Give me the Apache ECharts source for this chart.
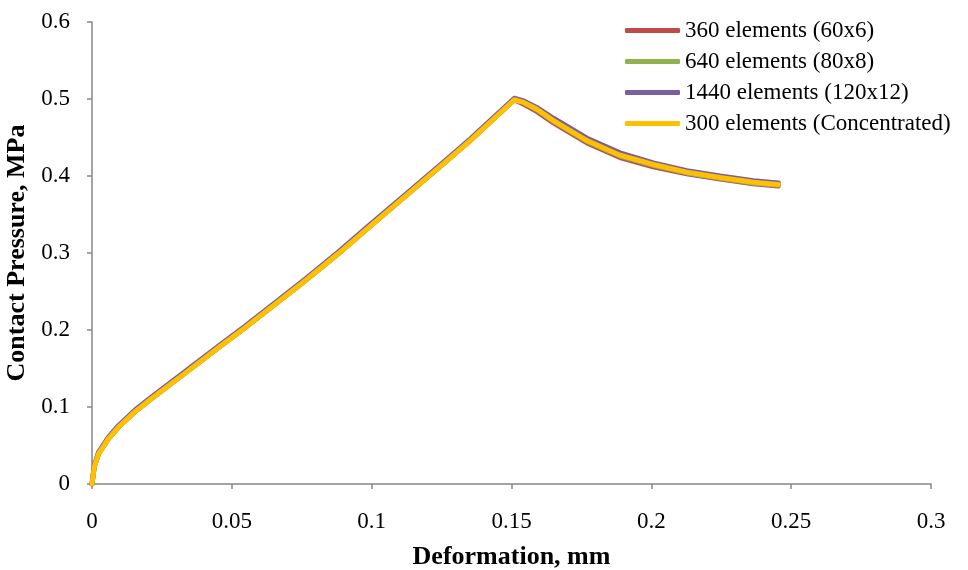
<!DOCTYPE html>
<html>
<head>
<meta charset="utf-8">
<script src="https://cdn.jsdelivr.net/npm/echarts@6/dist/echarts.min.js"></script>
<style>
  html, body { margin: 0; padding: 0; background: #fff; }
  #chart { width: 968px; height: 570px; }
</style>
</head>
<body>
<div id="chart"></div>
<script>
// Deformation values (mm) shared by all mesh runs
const deformation = [0, 0.0008, 0.0023, 0.0059, 0.0095, 0.0154, 0.0213, 0.0333, 0.0455, 0.0547,
  0.0762, 0.088, 0.0995, 0.1173, 0.126, 0.1352, 0.151, 0.154, 0.159, 0.165,
  0.177, 0.1888, 0.2007, 0.2127, 0.2246, 0.2365, 0.2454];

// Contact pressure (MPa) for each mesh
const mesh360 = [0, 0.022, 0.039, 0.059, 0.074, 0.094, 0.111, 0.144, 0.178, 0.203,
  0.264, 0.299, 0.335, 0.390, 0.417, 0.446, 0.499, 0.494, 0.484, 0.469,
  0.443, 0.424, 0.412, 0.403, 0.396, 0.390, 0.387];
const mesh640 = [0, 0.022, 0.039, 0.059, 0.074, 0.094, 0.111, 0.144, 0.178, 0.203,
  0.264, 0.299, 0.335, 0.390, 0.417, 0.446, 0.499, 0.496, 0.486, 0.471,
  0.445, 0.426, 0.414, 0.404, 0.397, 0.391, 0.388];
const mesh1440 = [0, 0.024, 0.041, 0.061, 0.076, 0.096, 0.113, 0.146, 0.180, 0.205,
  0.266, 0.301, 0.337, 0.392, 0.419, 0.448, 0.501, 0.498, 0.489, 0.475,
  0.449, 0.430, 0.417, 0.407, 0.400, 0.394, 0.391];
const meshConcentrated = [0, 0.022, 0.039, 0.059, 0.074, 0.094, 0.111, 0.144, 0.178, 0.203,
  0.264, 0.299, 0.335, 0.390, 0.417, 0.446, 0.499, 0.496, 0.487, 0.472,
  0.446, 0.427, 0.415, 0.405, 0.398, 0.392, 0.389];

const seriesNames = ['360 elements (60x6)', '640 elements (80x8)', '1440 elements (120x12)', '300 elements (Concentrated)'];
const seriesColors = ['#BE4B48', '#8FB24F', '#7A5E9E', '#FFC000'];
const seriesValues = [mesh360, mesh640, mesh1440, meshConcentrated];

const xTicks = { min: 0, max: 0.3, interval: 0.05 };
const yTicks = { min: 0, max: 0.6, interval: 0.1 };

const serif = "'Liberation Serif', 'Times New Roman', serif";
const axisGray = '#868686';

const chart = echarts.init(document.getElementById('chart'), null, { renderer: 'canvas' });

chart.setOption({
  animation: false,
  backgroundColor: '#ffffff',
  grid: { left: 92, right: 37, top: 22, bottom: 86, containLabel: false, outerBoundsMode: 'none' },
  legend: {
    orient: 'vertical',
    left: 620,
    top: 14,
    itemWidth: 55,
    itemHeight: 5,
    itemGap: 8,
    icon: 'roundRect',
    textStyle: { fontFamily: serif, fontSize: 23, color: '#000', lineHeight: 23 },
    data: seriesNames
  },
  xAxis: {
    type: 'value',
    min: xTicks.min, max: xTicks.max, interval: xTicks.interval,
    name: 'Deformation, mm',
    nameLocation: 'middle',
    nameGap: 60,
    nameTextStyle: { fontFamily: serif, fontSize: 26, fontWeight: 'bold', color: '#000' },
    axisLine: { show: true, onZero: false, lineStyle: { color: axisGray, width: 1.5 } },
    axisTick: { show: true, inside: false, length: 5, lineStyle: { color: axisGray, width: 1.5 } },
    axisLabel: { fontFamily: serif, fontSize: 23, color: '#000', margin: 26 },
    splitLine: { show: false }
  },
  yAxis: {
    type: 'value',
    min: yTicks.min, max: yTicks.max, interval: yTicks.interval,
    name: 'Contact Pressure, MPa',
    nameLocation: 'middle',
    nameGap: 54,
    nameRotate: 90,
    nameTextStyle: { fontFamily: serif, fontSize: 26, fontWeight: 'bold', color: '#000' },
    axisLine: { show: true, onZero: false, lineStyle: { color: axisGray, width: 1.5 } },
    axisTick: { show: true, inside: false, length: 5, lineStyle: { color: axisGray, width: 1.5 } },
    axisLabel: { fontFamily: serif, fontSize: 23, color: '#000', margin: 22 },
    splitLine: { show: false }
  },
  series: seriesNames.map((name, i) => ({
    name: name,
    type: 'line',
    showSymbol: false,
    symbol: 'none',
    smooth: false,
    color: seriesColors[i],
    lineStyle: { width: 5, color: seriesColors[i], cap: 'round', join: 'round' },
    z: 2 + i,
    data: deformation.map((x, k) => [x, seriesValues[i][k]])
  }))
});
</script>
</body>
</html>
